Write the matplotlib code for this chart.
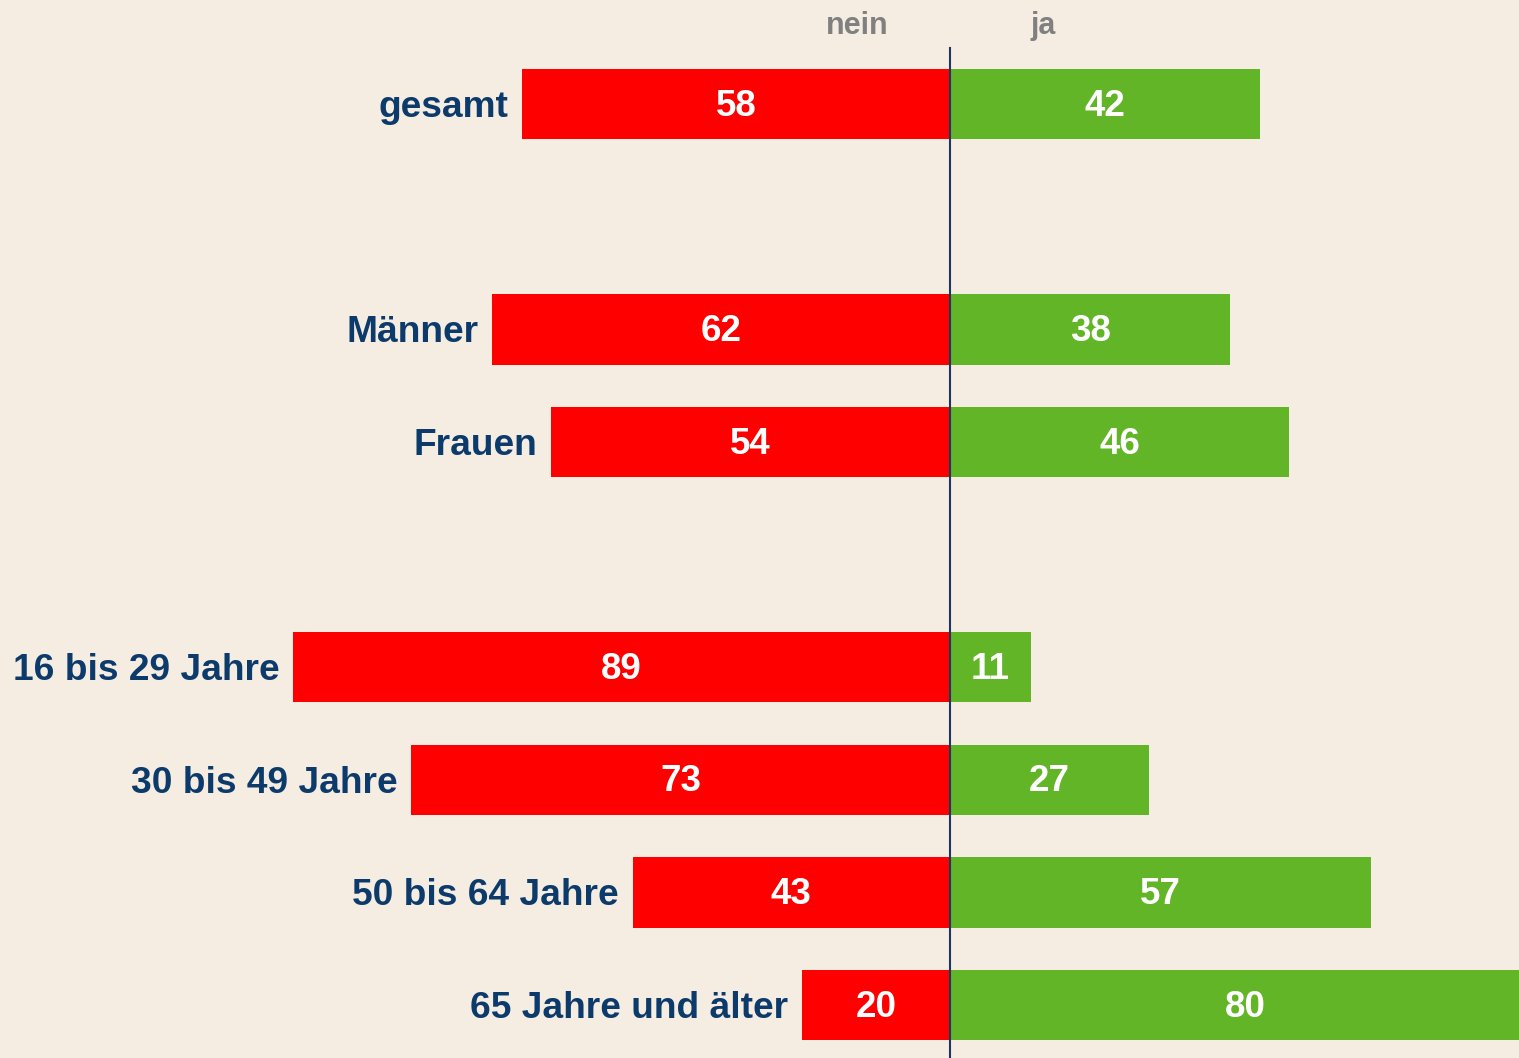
import matplotlib.pyplot as plt

plt.rcParams['font.family'] = ['Liberation Sans', 'DejaVu Sans']

# Daten (Prozent)
groups = [["gesamt"],
          ["Männer", "Frauen"],
          ["16 bis 29 Jahre", "30 bis 49 Jahre", "50 bis 64 Jahre", "65 Jahre und älter"]]
nein = [58, 62, 54, 89, 73, 43, 20]
ja = [42, 38, 46, 11, 27, 57, 80]

bg = '#f5ede2'
red = '#ff0000'
green = '#62b526'
navy = '#0b3a6b'

# y-Positionen: eine Leerzeile zwischen den Gruppen
labels = []
ypos = []
y = 0
for g in groups:
    for lab in g:
        labels.append(lab)
        ypos.append(y)
        y += 1
    y += 1

fig = plt.figure(figsize=(15.19, 10.58), dpi=100, facecolor=bg)
ax = fig.add_axes([0, 0, 1, 1])
ax.set_facecolor(bg)

h = 0.625
ax.barh(ypos, [-v for v in nein], height=h, color=red, linewidth=0)
ax.barh(ypos, ja, height=h, color=green, linewidth=0)

for yy, lab, n, j in zip(ypos, labels, nein, ja):
    ax.annotate(str(n), (-n / 2, yy), xytext=(0, -1.5), textcoords='offset points',
                ha='center', va='center', color='white',
                fontsize=26.5, fontweight='bold')
    ax.annotate(str(j), (j / 2, yy), xytext=(0, -1.5), textcoords='offset points',
                ha='center', va='center', color='white',
                fontsize=26.5, fontweight='bold')
    ax.annotate(lab, (-n, yy), xytext=(-10, -2.5), textcoords='offset points',
                ha='right', va='center', color=navy, fontsize=26.7,
                fontweight='bold')

ax.set_xlim(-128.7, 77.1)
ax.set_ylim(8.47, -0.924)
ax.plot([0, 0], [-0.5, 8.6], color='#1c3561', lw=1.5, zorder=5)

ax.text(-12.6, -0.69, 'nein', ha='center', va='center', color='#808080',
        fontsize=22, fontweight='bold')
ax.text(12.6, -0.69, 'ja', ha='center', va='center', color='#808080',
        fontsize=22, fontweight='bold')

ax.axis('off')
fig.savefig('out.png', dpi=100, facecolor=bg)
